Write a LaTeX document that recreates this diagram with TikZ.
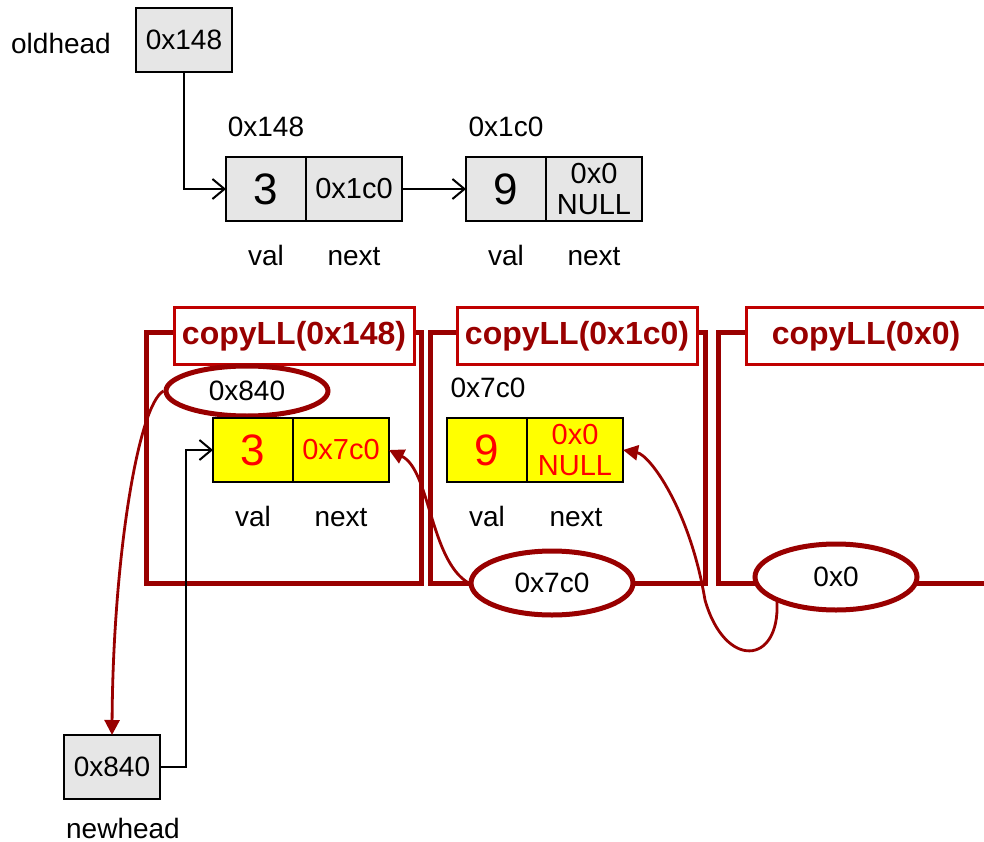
\documentclass[tikz,border=0pt]{standalone}
\usepackage{fontspec}
\setmainfont{Liberation Sans}
\usetikzlibrary{arrows.meta,shapes.geometric}
\definecolor{framered}{HTML}{990000}
\definecolor{titlered}{HTML}{C00000}
\definecolor{cellgray}{HTML}{E6E6E6}
\definecolor{cellyellow}{HTML}{FFFF00}
\definecolor{valred}{HTML}{FF0000}
\begin{document}
\begin{tikzpicture}[x=1pt,y=-1pt,
    lbl/.style={font=\fontsize{28}{32}\selectfont,text height=20pt,text depth=0pt},
    cell/.style={draw,line width=1.5pt,fill=cellgray,minimum height=64pt,outer sep=0pt,inner sep=0pt,font=\fontsize{28}{32}\selectfont},
    valcell/.style={cell,minimum width=80pt,font=\fontsize{44}{48}\selectfont},
    nextcell/.style={cell,minimum width=96pt,font=\fontsize{29}{31}\selectfont,align=center},
    newcell/.style={fill=cellyellow,text=valred},
    frame/.style={draw=framered,line width=5pt},
    callbox/.style={draw=titlered,line width=3pt,fill=white,minimum width=240pt,minimum height=57pt,text=framered,font=\bfseries\fontsize{32}{36}\selectfont},
    var/.style={ellipse,draw=framered,line width=5pt,fill=white,minimum width=162pt,inner sep=0pt,font=\fontsize{28}{32}\selectfont},
    ptr/.style={line width=2pt,-{Straight Barb[length=12pt,width=20pt]}},
    ret/.style={draw=framered,line width=2.8pt,-{Triangle[length=15pt,width=15pt]}}]
    \useasboundingbox[fill=white] (0,0) rectangle (984,842);
    \clip (0,0) rectangle (984,842);

    % old list
    \node[lbl] (oldlbl) at (61,44) {oldhead};
    \node[cell,minimum width=96pt] (oldhead) at (184,40) {0x148};
    \node[lbl] (a148) at (266,127) {0x148};
    \node[lbl] (a1c0) at (506,127) {0x1c0};
    \node[valcell] (n148v) at (266,189) {3};
    \node[nextcell] (n148n) at (354,189) {0x1c0};
    \node[valcell] (n1c0v) at (506,189) {9};
    \node[nextcell] (n1c0n) at (594,189) {0x0\\NULL};
    \foreach \x/\t in {266/val,354/next,506/val,594/next}
        \node[lbl] at (\x,255) {\t};
    \draw[ptr] (oldhead.south) |- (n148v.west);
    \draw[ptr] (n148n.east) -- (n1c0v.west);

    % call frames
    \draw[frame] (146,332) rectangle (421,583);
    \draw[frame] (430,332) rectangle (705,583);
    \draw[frame] (718,332) rectangle (1000,583);
    \node[callbox] (call1) at (294,336) {copyLL(0x148)};
    \node[callbox] (call2) at (577,336) {copyLL(0x1c0)};
    \node[callbox] (call3) at (866,336) {copyLL(0x0)};

    % copied nodes
    \node[var,minimum height=50pt] (e840) at (247,391) {0x840};
    \node[lbl] (a7c0) at (488,387) {0x7c0};
    \node[valcell,newcell] (c148v) at (253,450) {3};
    \node[nextcell,newcell] (c148n) at (341,450) {0x7c0};
    \node[valcell,newcell] (c1c0v) at (487,450) {9};
    \node[nextcell,newcell] (c1c0n) at (575,450) {0x0\\NULL};
    \foreach \x/\t in {253/val,341/next,487/val,576/next}
        \node[lbl] at (\x,516) {\t};
    \node[var,minimum height=64pt] (e7c0) at (552,583) {0x7c0};
    \node[var,minimum height=66pt] (e0) at (836,577) {0x0};

    % new head
    \node[cell,minimum width=96pt] (newhead) at (112,767) {0x840};
    \node[lbl] (newlbl) at (123,828) {newhead};
    \draw[ptr] (newhead.east) -- ++(26,0) |- (c148v.west);

    % returned pointers
    \draw[ret] (e840.west) .. controls (138,405) and (113,560) .. (newhead.north);
    \draw[ret] (e7c0.west) .. controls (430,560) and (430,470) .. (c148n.east);
    \draw[ret] (e0.south west) .. controls (780,665) and (725,670) .. (705,600)
        .. controls (690,510) and (650,455) .. (c1c0n.east);
\end{tikzpicture}
\end{document}
